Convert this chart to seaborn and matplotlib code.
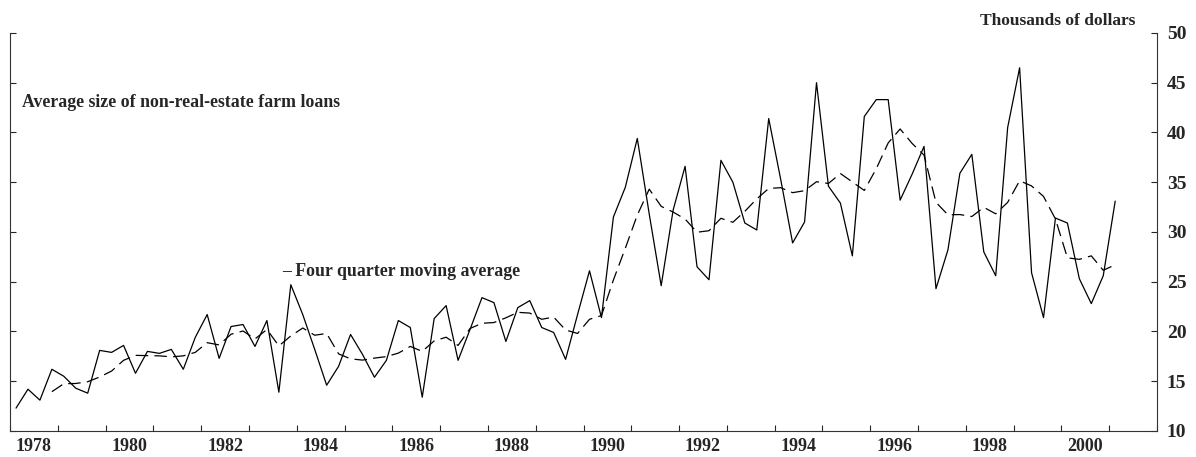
import numpy as np
import pandas as pd
import seaborn as sns
import matplotlib.pyplot as plt

# quarterly average size of non-real-estate farm loans, 1978Q1 - 2001Q1 (thousands of dollars)
start_year = 1978
loan_size = [
    12.3, 14.2, 13.1, 16.2,   # 1978
    15.5, 14.3, 13.8, 18.1,   # 1979
    17.9, 18.6, 15.8, 18.0,   # 1980
    17.8, 18.2, 16.2, 19.4,   # 1981
    21.7, 17.3, 20.5, 20.7,   # 1982
    18.5, 21.1, 13.9, 24.7,   # 1983
    21.7, 18.2, 14.6, 16.5,   # 1984
    19.7, 17.7, 15.4, 17.1,   # 1985
    21.1, 20.4, 13.4, 21.3,   # 1986
    22.6, 17.1, 20.2, 23.4,   # 1987
    22.9, 19.0, 22.4, 23.1,   # 1988
    20.4, 19.9, 17.2, 21.7,   # 1989
    26.1, 21.4, 31.5, 34.5,   # 1990
    39.4, 31.8, 24.6, 32.2,   # 1991
    36.6, 26.5, 25.2, 37.2,   # 1992
    35.0, 30.9, 30.2, 41.4,   # 1993
    35.3, 28.9, 31.0, 45.0,   # 1994
    34.6, 32.9, 27.6, 41.6,   # 1995
    43.3, 43.3, 33.2, 35.8,   # 1996
    38.6, 24.3, 28.2, 35.9,   # 1997
    37.8, 28.0, 25.6, 40.5,   # 1998
    46.5, 25.9, 21.4, 31.4,   # 1999
    30.9, 25.3, 22.8, 25.6,   # 2000
    33.1,                     # 2001
]

year_ticks = list(range(1978, 2003))
year_labels = [str(y) for y in range(1978, 2001, 2)]
y_ticks = [10, 15, 20, 25, 30, 35, 40, 45, 50]

# quarter midpoints as fractional years
df = pd.DataFrame({'loan': loan_size})
df['t'] = start_year + (np.arange(len(df)) + 0.5) / 4
# four quarter (trailing) moving average
df['ma'] = df['loan'].rolling(4).mean()

sns.set_style('ticks')
plt.rcParams['font.family'] = ['Liberation Serif', 'DejaVu Serif']
plt.rcParams['font.weight'] = 'bold'

fig = plt.figure(figsize=(11.96, 4.57), dpi=100)
ax = fig.add_axes([0.0084, 0.0569, 0.959, 0.871])

sns.lineplot(data=df, x='t', y='loan', color='black', linewidth=0.9, ax=ax)
sns.lineplot(data=df.dropna(), x='t', y='ma', color='black', linewidth=0.9,
             linestyle=(0, (10, 5)), ax=ax)

ax.set_xlim(1978, 2002)
ax.set_ylim(10, 50)

# year ticks at year boundaries, labels centred in the year
ax.set_xticks(year_ticks)
ax.set_xticklabels([])
ax.set_xticks([int(l) + 0.5 for l in year_labels], minor=True)
ax.set_xticklabels(year_labels, minor=True)
ax.tick_params(axis='x', which='major', direction='in', length=4, width=0.8)
ax.tick_params(axis='x', which='minor', length=0, pad=5, labelsize=13)

ax.set_yticks(y_ticks)
ax.set_yticklabels([str(v) for v in y_ticks])
ax.tick_params(axis='y', left=True, right=True, labelleft=False, labelright=True,
               direction='in', length=4, width=0.8, pad=7, labelsize=14)

for side in ['left', 'right', 'bottom']:
    ax.spines[side].set_linewidth(0.8)
    ax.spines[side].set_color('#333333')
ax.spines['top'].set_visible(False)

ax.set_xlabel('')
ax.set_ylabel('')

ax.text(1978.25, 43.0, 'Average size of non-real-estate farm loans', fontsize=12.8,
        fontweight='bold', va='center', ha='left')
ax.text(1983.69, 26.0, '\u2013 Four quarter moving average', fontsize=12.8,
        fontweight='bold', va='center', ha='left')
ax.text(2001.55, 51.2, 'Thousands of dollars', fontsize=12.5, fontweight='bold',
        va='center', ha='right', clip_on=False)

fig.savefig('out.png', dpi=100)
